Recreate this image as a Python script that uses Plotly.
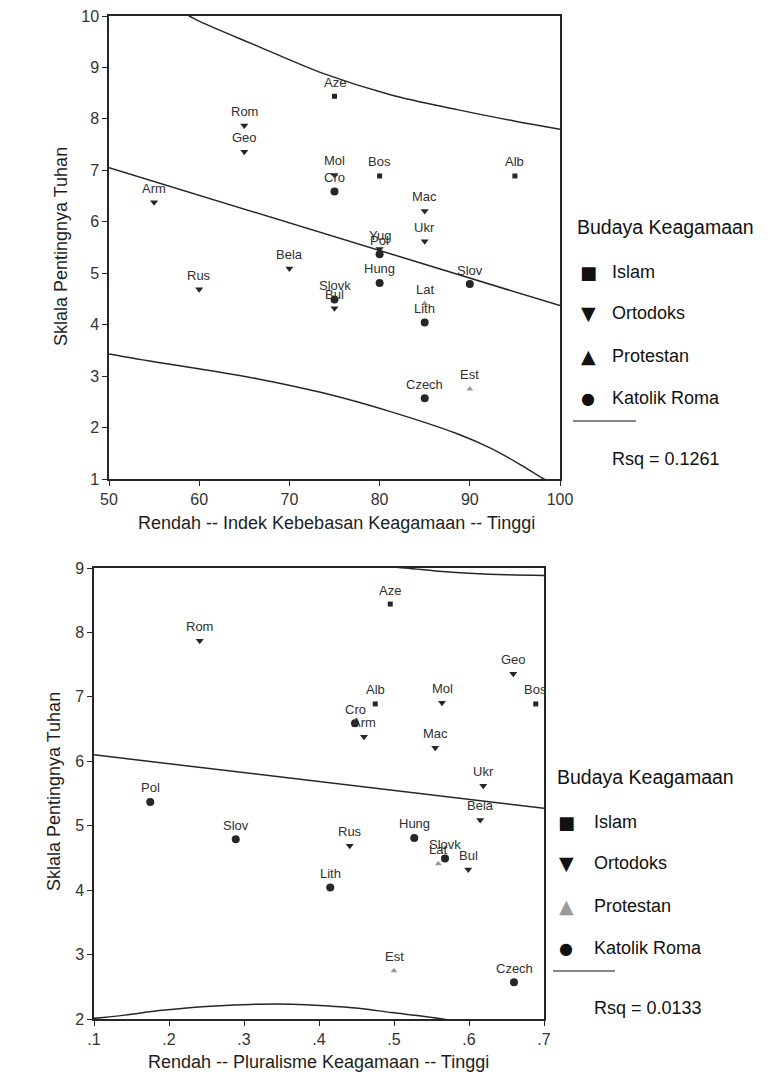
import plotly.graph_objects as go

W, H = 776, 1086

# ---- data -------------------------------------------------------------
countries = ["Aze", "Rom", "Geo", "Mol", "Cro", "Bos", "Alb", "Arm", "Mac", "Ukr", "Yug",
             "Pol", "Bela", "Rus", "Hung", "Slov", "Slovk", "Bul", "Lat", "Lith", "Czech", "Est"]
religion = ["Islam", "Ortodoks", "Ortodoks", "Ortodoks", "Katolik Roma", "Islam", "Islam",
            "Ortodoks", "Ortodoks", "Ortodoks", "Ortodoks", "Katolik Roma", "Ortodoks", "Ortodoks",
            "Katolik Roma", "Katolik Roma", "Katolik Roma", "Ortodoks", "Protestan",
            "Katolik Roma", "Katolik Roma", "Protestan"]
importance_of_god = [8.44, 7.87, 7.36, 6.91, 6.59, 6.89, 6.89, 6.38, 6.21, 5.62, 5.47,
                     5.37, 5.09, 4.69, 4.81, 4.79, 4.49, 4.32, 4.41, 4.04, 2.57, 2.75]
freedom_index = [75, 65, 65, 75, 75, 80, 95, 55, 85, 85, 80,
                 80, 70, 60, 80, 90, 75, 75, 85, 85, 85, 90]
pluralism = [0.495, 0.241, 0.659, 0.564, 0.448, 0.689, 0.475, 0.460, 0.555, 0.619, None,
             0.175, 0.615, 0.441, 0.527, 0.289, 0.568, 0.599, 0.559, 0.415, 0.660, 0.500]

# fitted line and prediction band, freedom index chart
fit1_x = [50, 100]
fit1_y = [7.05, 4.37]
band1_up_x = [57.5, 58.9, 60.1, 66.4, 73.8, 81.2, 88.6, 94.9, 100]
band1_up_y = [10.12, 10.0, 9.89, 9.42, 8.88, 8.47, 8.18, 7.96, 7.80]
band1_lo_x = [50, 55.3, 60.1, 66.4, 73.8, 81.2, 88.6, 92.3, 95.7, 98.2, 100]
band1_lo_y = [3.43, 3.27, 3.14, 2.95, 2.67, 2.31, 1.88, 1.60, 1.27, 1.0, 0.83]
rsq1 = 0.1261

# fitted line and prediction band, pluralism chart
fit2_x = [0.1, 0.7]
fit2_y = [6.10, 5.27]
band2_up_x = [0.45, 0.515, 0.56, 0.60, 0.65, 0.70]
band2_up_y = [9.06, 9.0, 8.95, 8.92, 8.895, 8.885]
band2_lo_x = [0.1, 0.141, 0.187, 0.231, 0.275, 0.32, 0.364, 0.408, 0.453, 0.497, 0.541, 0.575, 0.60]
band2_lo_y = [2.01, 2.06, 2.13, 2.18, 2.21, 2.23, 2.23, 2.205, 2.165, 2.10, 2.04, 1.98, 1.93]
rsq2 = 0.0133

legend_title = "Budaya Keagamaan"
legend_labels = ["Islam", "Ortodoks", "Protestan", "Katolik Roma"]

# ---- styles -----------------------------------------------------------
INK = "#262626"
FONT = "Liberation Sans, Arial, sans-serif"
marker_style = {
    "Islam": dict(symbol="square", size=5, color=INK),
    "Ortodoks": dict(symbol="triangle-down", size=7, color=INK),
    "Protestan": dict(symbol="triangle-up", size=6, color="#9a9a9a"),
    "Katolik Roma": dict(symbol="circle", size=8, color=INK),
}
glyph = {"Islam": "■", "Ortodoks": "▼", "Protestan": "▲", "Katolik Roma": "●"}
glyph_size = {"Islam": 18, "Ortodoks": 19, "Protestan": 19, "Katolik Roma": 16}


def paper(xp, yp):
    return xp / W, 1 - yp / H


fig = go.Figure()
annotations = []


def add_panel(xvals, xa, ya):
    for rel in legend_labels:
        xs, ys = [], []
        for c, r, x, y in zip(countries, religion, xvals, importance_of_god):
            if r == rel and x is not None:
                xs.append(x)
                ys.append(y)
        st = marker_style[rel]
        fig.add_trace(go.Scatter(
            x=xs, y=ys, mode="markers", xaxis=xa, yaxis=ya, showlegend=False,
            marker=dict(symbol=st["symbol"], size=st["size"], color=st["color"], line=dict(width=0)),
            cliponaxis=False))
    for c, x, y in zip(countries, xvals, importance_of_god):
        if x is None:
            continue
        annotations.append(dict(
            x=x, y=y, xref=xa, yref=ya, text=c, showarrow=False, yshift=14,
            font=dict(family=FONT, size=13, color="#303030")))


def add_lines(xa, ya, fx, fy, ux, uy, lx, ly):
    line = dict(color=INK, width=1.5)
    fig.add_trace(go.Scatter(x=fx, y=fy, mode="lines", xaxis=xa, yaxis=ya,
                             line=line, showlegend=False))
    fig.add_trace(go.Scatter(x=ux, y=uy, mode="lines", xaxis=xa, yaxis=ya,
                             line=dict(shape="spline", smoothing=1.0, **line), showlegend=False))
    fig.add_trace(go.Scatter(x=lx, y=ly, mode="lines", xaxis=xa, yaxis=ya,
                             line=dict(shape="spline", smoothing=1.0, **line), showlegend=False))


add_lines("x", "y", fit1_x, fit1_y, band1_up_x, band1_up_y, band1_lo_x, band1_lo_y)
add_panel(freedom_index, "x", "y")
add_lines("x2", "y2", fit2_x, fit2_y, band2_up_x, band2_up_y, band2_lo_x, band2_lo_y)
add_panel(pluralism, "x2", "y2")

axis_common = dict(
    showgrid=False, zeroline=False, showline=True, mirror=True, linecolor=INK, linewidth=1.5,
    ticks="outside", ticklen=5, tickwidth=1.3, tickcolor=INK, automargin=False,
    tickfont=dict(family=FONT, size=16, color="#333333"),
)

fig.update_layout(
    template="none",
    width=W, height=H,
    margin=dict(l=0, r=0, t=0, b=0),
    paper_bgcolor="white", plot_bgcolor="white",
    showlegend=False,
    xaxis=dict(domain=[109 / W, 560 / W], range=[50, 100], tickvals=[50, 60, 70, 80, 90, 100],
               anchor="y", **axis_common),
    yaxis=dict(domain=[1 - 479 / H, 1 - 16 / H], range=[1, 10], tickvals=list(range(1, 11)),
               anchor="x", **axis_common),
    xaxis2=dict(domain=[94 / W, 544 / W], range=[0.1, 0.7],
                tickvals=[0.1, 0.2, 0.3, 0.4, 0.5, 0.6, 0.7],
                ticktext=[".1", ".2", ".3", ".4", ".5", ".6", ".7"],
                anchor="y2", **axis_common),
    yaxis2=dict(domain=[1 - 1019 / H, 1 - 568 / H], range=[2, 9], tickvals=list(range(2, 10)),
                anchor="x2", **axis_common),
)

# axis titles
title_font = dict(family=FONT, size=18, color="#1e1e1e")
for text, (cx, cy), angle in [
    ("Rendah -- Indek Kebebasan Keagamaan -- Tinggi", (336, 523), 0),
    ("Rendah -- Pluralisme Keagamaan -- Tinggi", (318, 1062), 0),
    ("Sklala Pentingnya Tuhan", (61, 247), -90),
    ("Sklala Pentingnya Tuhan", (54, 792), -90),
]:
    px_, py_ = paper(cx, cy)
    annotations.append(dict(x=px_, y=py_, xref="paper", yref="paper", text=text,
                            showarrow=False, textangle=angle, font=title_font,
                            xanchor="center", yanchor="middle"))

# legends with R-squared
shapes = []


def add_legend(title_x, title_y, glyph_x, text_x, item_ys, line_x0, line_x1, line_y,
               rsq, rsq_y, protestant_color):
    tx, ty = paper(title_x, title_y)
    annotations.append(dict(x=tx, y=ty, xref="paper", yref="paper", text=legend_title,
                            showarrow=False, xanchor="left", yanchor="middle",
                            font=dict(family=FONT, size=19.5, color="#111111")))
    for lab, iy in zip(legend_labels, item_ys):
        gx, gy = paper(glyph_x, iy)
        color = protestant_color if lab == "Protestan" else "#111111"
        annotations.append(dict(x=gx, y=gy, xref="paper", yref="paper", text=glyph[lab],
                                showarrow=False, xanchor="center", yanchor="middle",
                                font=dict(family="DejaVu Sans", size=glyph_size[lab], color=color)))
        lx, ly = paper(text_x, iy)
        annotations.append(dict(x=lx, y=ly, xref="paper", yref="paper", text=lab,
                                showarrow=False, xanchor="left", yanchor="middle",
                                font=dict(family=FONT, size=18, color="#111111")))
    x0, y0 = paper(line_x0, line_y)
    x1, _ = paper(line_x1, line_y)
    shapes.append(dict(type="line", xref="paper", yref="paper", x0=x0, x1=x1, y0=y0, y1=y0,
                       line=dict(color="#111111", width=1.2)))
    rx, ry = paper(text_x, rsq_y)
    annotations.append(dict(x=rx, y=ry, xref="paper", yref="paper", text=f"Rsq = {rsq:.4f}",
                            showarrow=False, xanchor="left", yanchor="middle",
                            font=dict(family=FONT, size=18, color="#111111")))


add_legend(575, 227, 588, 610, [272, 313, 356, 398], 573, 636, 421, rsq1, 459, "#111111")
add_legend(555, 777, 566, 592, [822, 863, 906, 948], 553, 615, 971, rsq2, 1008, "#9a9a9a")

fig.update_layout(annotations=annotations, shapes=shapes)
fig.write_html("out.html")
